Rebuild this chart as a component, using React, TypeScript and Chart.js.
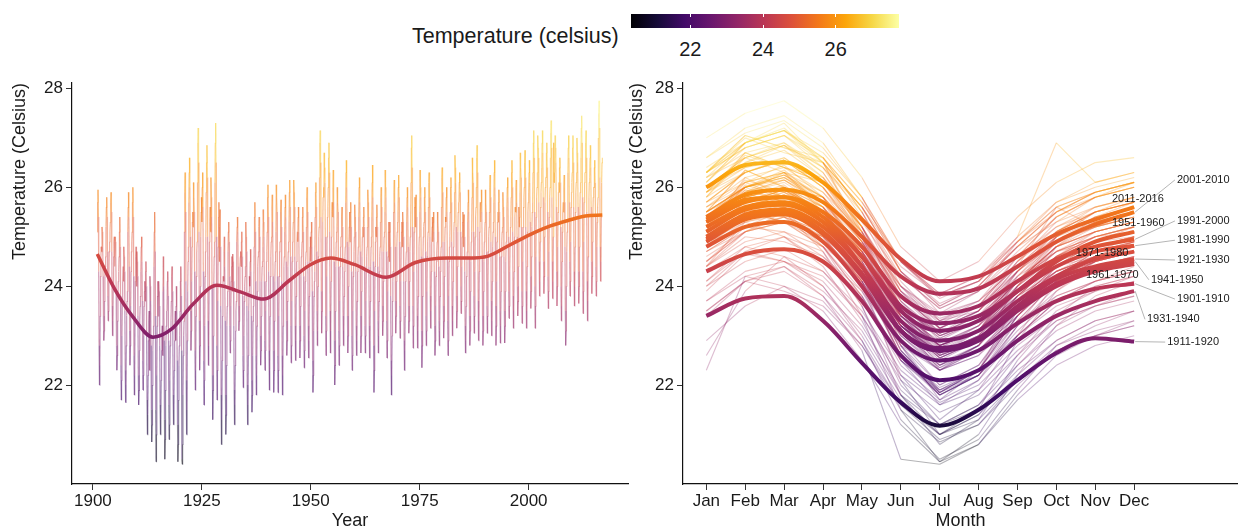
import React, { useEffect, useRef } from 'react';
import { Chart, registerables } from 'chart.js';

Chart.register(...registerables);

const FONT = "'Liberation Sans', Arial, Helvetica, sans-serif";
const TEXT = '#1a1a1a';

const MONTHS = ['Jan', 'Feb', 'Mar', 'Apr', 'May', 'Jun', 'Jul', 'Aug', 'Sep', 'Oct', 'Nov', 'Dec'];
const FIRST_YEAR = 1901;

// Monthly mean temperature (°C), one row per year 1901..2016, Jan..Dec
const MONTHLY: number[][] = [
  [25.1, 25.7, 25.95, 25.4, 24.3, 22.8, 22.0, 22.4, 23.4, 24.2, 24.6, 24.8],
  [24.7, 25.2, 25.1, 24.8, 24.2, 23.4, 22.9, 23.1, 23.7, 24.2, 24.4, 24.6],
  [25.2, 25.6, 25.8, 25.4, 24.7, 23.8, 23.3, 23.5, 24.2, 24.7, 24.9, 25.1],
  [25.3, 25.7, 25.9, 25.5, 24.7, 23.6, 23.0, 23.3, 24.0, 24.6, 24.9, 25.0],
  [24.4, 25.0, 24.9, 24.6, 23.9, 22.8, 22.3, 22.6, 23.3, 23.8, 24.1, 24.3],
  [24.6, 25.1, 25.4, 24.8, 23.8, 22.4, 21.7, 22.1, 23.0, 23.7, 24.1, 24.4],
  [24.1, 24.8, 24.6, 24.3, 23.5, 22.3, 21.65, 22.0, 22.8, 23.4, 23.7, 23.9],
  [25.1, 25.6, 25.9, 25.4, 24.4, 23.1, 22.4, 22.8, 23.6, 24.3, 24.7, 24.9],
  [25.1, 25.7, 26.0, 25.4, 24.2, 22.6, 21.8, 22.2, 23.3, 24.1, 24.6, 24.8],
  [24.0, 24.7, 24.5, 24.2, 23.4, 22.2, 21.6, 21.9, 22.7, 23.3, 23.6, 23.8],
  [24.3, 24.8, 25.0, 24.5, 23.7, 22.5, 21.9, 22.2, 23.0, 23.6, 23.9, 24.1],
  [23.7, 24.3, 24.5, 24.0, 23.0, 21.7, 21.0, 21.4, 22.2, 22.9, 23.3, 23.5],
  [22.3, 24.2, 24.0, 23.7, 22.8, 21.5, 20.85, 21.2, 22.0, 22.7, 23.0, 23.2],
  [24.4, 25.1, 25.5, 24.7, 23.4, 21.5, 20.45, 21.0, 22.2, 23.2, 23.8, 24.1],
  [23.4, 24.1, 23.9, 23.6, 22.8, 21.6, 21.0, 21.3, 22.1, 22.7, 23.0, 23.2],
  [22.6, 23.9, 24.6, 24.0, 22.9, 21.3, 20.5, 20.9, 21.9, 22.8, 23.2, 23.5],
  [23.5, 24.1, 24.3, 23.8, 22.9, 21.6, 20.9, 21.2, 22.1, 22.8, 23.1, 23.3],
  [23.7, 24.2, 24.4, 23.9, 23.1, 21.8, 21.2, 21.5, 22.3, 22.9, 23.3, 23.5],
  [22.9, 23.6, 24.0, 23.5, 22.5, 21.2, 20.45, 20.8, 21.7, 22.4, 22.8, 23.0],
  [23.5, 24.1, 24.4, 23.8, 22.7, 20.5, 20.4, 20.8, 21.8, 22.6, 23.0, 23.3],
  [25.1, 25.9, 26.3, 25.5, 24.1, 22.1, 21.0, 21.5, 22.9, 23.9, 24.5, 24.8],
  [25.7, 26.3, 26.6, 26.0, 25.0, 23.5, 22.7, 23.1, 24.1, 24.8, 25.3, 25.5],
  [25.2, 26.1, 25.8, 25.5, 24.3, 22.7, 21.9, 22.3, 23.4, 24.2, 24.7, 24.9],
  [26.1, 26.9, 27.2, 26.5, 25.1, 23.3, 22.3, 22.8, 24.0, 25.0, 25.5, 25.8],
  [25.3, 26.0, 26.3, 25.6, 24.3, 22.5, 21.6, 22.1, 23.2, 24.2, 24.7, 25.0],
  [25.9, 26.5, 26.85, 26.2, 25.0, 23.3, 22.4, 22.8, 24.0, 24.9, 25.3, 25.6],
  [25.1, 26.2, 25.8, 25.4, 24.0, 22.2, 21.3, 21.9, 23.0, 24.1, 24.6, 24.9],
  [26.1, 26.9, 27.3, 26.5, 25.0, 22.8, 21.7, 22.3, 23.7, 24.8, 25.4, 25.7],
  [24.5, 25.2, 25.55, 24.8, 23.6, 21.8, 20.8, 21.3, 22.5, 23.4, 24.0, 24.2],
  [24.1, 24.7, 25.0, 24.4, 23.3, 21.8, 21.0, 21.4, 22.4, 23.2, 23.6, 23.9],
  [24.7, 25.1, 25.3, 24.9, 24.2, 23.2, 22.65, 22.9, 23.6, 24.1, 24.4, 24.6],
  [23.9, 24.65, 24.5, 24.1, 23.2, 21.9, 21.2, 21.6, 22.4, 23.1, 23.5, 23.7],
  [24.9, 25.2, 25.4, 25.1, 24.4, 23.6, 23.1, 23.3, 23.9, 24.4, 24.6, 24.7],
  [24.4, 24.9, 25.1, 24.6, 23.8, 22.6, 21.95, 22.3, 23.0, 23.7, 24.0, 24.2],
  [24.4, 25.3, 25.0, 24.7, 23.6, 22.0, 21.2, 21.6, 22.6, 23.5, 23.9, 24.2],
  [24.0, 24.5, 24.75, 24.3, 23.4, 22.1, 21.45, 21.8, 22.6, 23.3, 23.6, 23.8],
  [24.8, 25.4, 25.7, 25.1, 24.1, 22.6, 21.8, 22.2, 23.2, 23.9, 24.4, 24.6],
  [24.7, 25.2, 25.4, 25.0, 24.1, 23.0, 22.4, 22.7, 23.4, 24.1, 24.4, 24.5],
  [24.8, 25.55, 25.3, 25.0, 24.1, 22.9, 22.3, 22.7, 23.5, 24.1, 24.5, 24.7],
  [25.1, 25.8, 26.05, 25.4, 24.3, 22.7, 21.9, 22.3, 23.4, 24.2, 24.6, 24.9],
  [25.0, 25.6, 25.85, 25.3, 24.2, 22.7, 21.85, 22.3, 23.3, 24.1, 24.5, 24.7],
  [25.1, 26.05, 25.8, 25.5, 24.2, 22.6, 21.85, 22.3, 23.4, 24.2, 24.7, 24.9],
  [24.9, 25.5, 25.75, 25.2, 24.1, 22.6, 21.8, 22.2, 23.2, 24.0, 24.4, 24.6],
  [25.1, 25.6, 25.85, 25.4, 24.5, 23.3, 22.6, 22.9, 23.7, 24.4, 24.7, 24.9],
  [25.3, 25.9, 26.15, 25.6, 24.6, 23.2, 22.45, 22.8, 23.7, 24.5, 24.9, 25.1],
  [25.3, 26.15, 25.9, 25.6, 24.6, 23.2, 22.5, 22.9, 23.8, 24.5, 24.9, 25.1],
  [24.9, 25.4, 25.6, 25.1, 24.3, 23.2, 22.55, 22.9, 23.6, 24.2, 24.6, 24.7],
  [24.9, 25.4, 25.6, 25.1, 24.2, 23.0, 22.35, 22.7, 23.5, 24.1, 24.5, 24.7],
  [25.2, 25.8, 26.0, 25.5, 24.5, 23.2, 22.55, 22.9, 23.8, 24.5, 24.8, 25.0],
  [24.5, 25.1, 25.3, 24.8, 23.9, 22.5, 21.85, 22.2, 23.1, 23.8, 24.1, 24.3],
  [25.4, 25.9, 26.1, 25.6, 24.7, 23.5, 22.8, 23.1, 24.0, 24.6, 25.0, 25.2],
  [26.2, 26.9, 27.15, 26.5, 25.4, 23.9, 23.05, 23.5, 24.5, 25.3, 25.8, 26.0],
  [25.8, 26.7, 26.4, 26.1, 25.0, 23.4, 22.6, 23.1, 24.2, 25.0, 25.4, 25.6],
  [26.0, 26.6, 26.9, 26.3, 25.1, 23.5, 22.65, 23.1, 24.1, 25.0, 25.5, 25.7],
  [25.4, 26.0, 26.35, 25.7, 24.5, 22.9, 22.0, 22.4, 23.5, 24.4, 24.9, 25.1],
  [25.2, 26.0, 25.7, 25.5, 24.4, 23.1, 22.4, 22.8, 23.7, 24.4, 24.8, 25.0],
  [25.0, 25.4, 25.6, 25.2, 24.4, 23.4, 22.8, 23.1, 23.8, 24.3, 24.6, 24.8],
  [25.7, 26.3, 26.55, 26.0, 24.9, 23.4, 22.65, 23.0, 24.0, 24.8, 25.2, 25.5],
  [24.9, 25.5, 25.7, 25.2, 24.3, 23.0, 22.3, 22.6, 23.5, 24.2, 24.5, 24.7],
  [25.0, 25.65, 25.4, 25.1, 24.3, 23.2, 22.6, 22.9, 23.7, 24.3, 24.6, 24.8],
  [25.4, 26.0, 26.2, 25.7, 24.7, 23.4, 22.65, 23.0, 23.9, 24.6, 25.0, 25.2],
  [25.0, 25.4, 25.6, 25.2, 24.4, 23.2, 22.65, 23.0, 23.7, 24.3, 24.6, 24.8],
  [25.2, 25.95, 25.7, 25.4, 24.4, 23.2, 22.55, 22.9, 23.7, 24.4, 24.8, 25.0],
  [25.4, 26.1, 26.45, 25.8, 24.5, 22.8, 21.85, 22.3, 23.5, 24.4, 24.9, 25.2],
  [25.0, 25.4, 25.65, 25.2, 24.4, 23.3, 22.65, 23.0, 23.7, 24.3, 24.6, 24.8],
  [25.3, 25.8, 26.0, 25.6, 24.7, 23.6, 23.0, 23.3, 24.1, 24.7, 25.0, 25.1],
  [25.5, 26.35, 26.0, 25.8, 24.7, 23.3, 22.55, 22.9, 23.9, 24.6, 25.1, 25.3],
  [24.5, 25.1, 25.3, 24.8, 23.8, 22.5, 21.8, 22.2, 23.0, 23.7, 24.1, 24.3],
  [25.5, 25.9, 26.15, 25.7, 24.8, 23.7, 23.05, 23.4, 24.1, 24.8, 25.1, 25.3],
  [25.5, 26.0, 26.25, 25.8, 24.9, 23.6, 22.95, 23.3, 24.1, 24.8, 25.1, 25.3],
  [24.8, 25.5, 25.3, 25.0, 24.1, 22.9, 22.3, 22.7, 23.4, 24.1, 24.5, 24.7],
  [25.3, 25.8, 26.0, 25.6, 24.8, 23.6, 23.05, 23.3, 24.1, 24.7, 25.0, 25.2],
  [26.1, 26.8, 27.05, 26.4, 25.2, 23.6, 22.75, 23.2, 24.3, 25.1, 25.6, 25.8],
  [25.2, 25.6, 25.85, 25.4, 24.5, 23.4, 22.75, 23.1, 23.8, 24.5, 24.8, 25.0],
  [25.5, 26.35, 26.0, 25.8, 24.6, 23.1, 22.35, 22.8, 23.8, 24.6, 25.0, 25.2],
  [25.3, 25.8, 26.0, 25.5, 24.7, 23.4, 22.8, 23.1, 23.9, 24.6, 24.9, 25.1],
  [25.6, 26.1, 26.3, 25.8, 25.0, 23.8, 23.15, 23.5, 24.3, 24.9, 25.2, 25.4],
  [24.9, 25.3, 25.5, 25.1, 24.3, 23.2, 22.6, 22.9, 23.6, 24.2, 24.5, 24.7],
  [24.9, 25.5, 25.3, 25.1, 24.4, 23.3, 22.8, 23.1, 23.8, 24.3, 24.6, 24.8],
  [25.6, 26.2, 26.4, 25.9, 24.9, 23.6, 22.95, 23.3, 24.2, 24.9, 25.2, 25.4],
  [25.3, 25.8, 26.0, 25.5, 24.6, 23.3, 22.6, 22.9, 23.8, 24.5, 24.8, 25.0],
  [25.5, 26.0, 26.2, 25.7, 24.9, 23.6, 23.0, 23.3, 24.1, 24.8, 25.1, 25.3],
  [25.9, 26.65, 26.4, 26.1, 25.2, 23.8, 23.15, 23.5, 24.4, 25.1, 25.5, 25.7],
  [25.7, 26.1, 26.3, 25.9, 25.1, 24.0, 23.45, 23.7, 24.4, 25.0, 25.3, 25.5],
  [24.8, 25.3, 25.45, 25.0, 24.3, 23.2, 22.65, 22.9, 23.6, 24.2, 24.5, 24.7],
  [25.3, 25.7, 25.95, 25.5, 24.6, 23.4, 22.8, 23.1, 23.9, 24.5, 24.9, 25.1],
  [25.8, 26.6, 26.3, 26.1, 25.1, 23.8, 23.05, 23.4, 24.3, 25.0, 25.4, 25.6],
  [26.0, 26.6, 26.85, 26.3, 25.2, 23.7, 22.9, 23.3, 24.3, 25.1, 25.5, 25.7],
  [25.3, 25.7, 25.95, 25.5, 24.6, 23.4, 22.8, 23.1, 23.9, 24.5, 24.9, 25.1],
  [25.3, 25.95, 25.7, 25.5, 24.7, 23.6, 23.05, 23.4, 24.1, 24.7, 25.0, 25.2],
  [25.5, 26.0, 26.25, 25.8, 24.9, 23.7, 23.0, 23.3, 24.1, 24.8, 25.1, 25.3],
  [25.7, 26.3, 26.55, 26.0, 25.0, 23.6, 22.8, 23.2, 24.1, 24.9, 25.3, 25.5],
  [25.3, 25.7, 25.95, 25.5, 24.6, 23.5, 22.85, 23.2, 23.9, 24.6, 24.9, 25.1],
  [25.2, 25.9, 25.6, 25.4, 24.6, 23.5, 22.85, 23.2, 23.9, 24.5, 24.9, 25.1],
  [25.6, 26.0, 26.2, 25.8, 25.0, 23.9, 23.35, 23.6, 24.3, 24.9, 25.2, 25.4],
  [25.8, 26.3, 26.55, 26.0, 25.1, 23.8, 23.15, 23.5, 24.3, 25.0, 25.4, 25.6],
  [25.5, 26.0, 26.15, 25.7, 25.0, 24.0, 23.4, 23.7, 24.4, 25.6, 25.2, 25.4],
  [25.9, 26.7, 26.4, 26.2, 25.2, 23.9, 23.25, 23.6, 24.5, 25.2, 25.6, 25.8],
  [26.0, 26.5, 26.75, 26.2, 25.2, 23.9, 23.15, 23.5, 24.4, 25.1, 25.5, 25.7],
  [25.9, 26.3, 26.55, 26.1, 25.3, 24.2, 23.55, 23.9, 24.6, 25.2, 25.5, 25.7],
  [26.3, 26.9, 27.15, 26.6, 25.5, 24.0, 23.15, 23.6, 24.6, 25.4, 25.8, 26.0],
  [26.3, 27.05, 26.8, 26.6, 25.7, 24.5, 23.8, 24.1, 24.9, 25.6, 25.9, 26.1],
  [26.4, 26.9, 27.15, 26.7, 25.8, 24.5, 23.85, 24.2, 25.0, 25.7, 26.0, 26.2],
  [26.2, 26.7, 26.9, 26.4, 25.5, 24.2, 23.55, 23.9, 24.7, 25.4, 25.8, 26.0],
  [26.6, 27.1, 27.35, 26.8, 25.8, 24.5, 23.75, 24.1, 25.0, 26.9, 26.1, 26.3],
  [26.3, 27.05, 26.8, 26.5, 25.6, 24.3, 23.6, 24.0, 24.8, 25.5, 25.9, 26.1],
  [25.9, 26.4, 26.6, 26.1, 25.2, 24.0, 23.3, 23.6, 24.5, 25.1, 25.5, 25.7],
  [25.5, 26.0, 26.25, 25.7, 24.8, 23.5, 22.8, 23.1, 24.0, 24.7, 25.1, 25.3],
  [26.3, 26.8, 27.05, 26.6, 25.7, 24.5, 23.8, 24.1, 24.9, 25.6, 25.9, 26.1],
  [26.3, 26.8, 27.05, 26.5, 25.6, 24.3, 23.6, 24.0, 24.8, 25.5, 25.9, 26.1],
  [26.3, 27.0, 26.7, 26.5, 25.6, 24.3, 23.65, 24.0, 24.8, 25.5, 25.9, 26.1],
  [26.6, 27.2, 27.45, 26.9, 25.8, 24.3, 23.45, 23.9, 24.9, 25.7, 26.1, 26.3],
  [26.3, 26.9, 27.15, 26.6, 25.5, 24.1, 23.3, 23.7, 24.6, 25.4, 25.8, 26.1],
  [26.2, 26.6, 26.85, 26.4, 25.6, 24.5, 23.85, 24.2, 24.9, 25.5, 25.8, 26.0],
  [26.0, 26.4, 26.55, 26.1, 25.4, 24.4, 23.8, 24.1, 24.8, 25.3, 25.6, 25.8],
  [27.0, 27.5, 27.75, 27.2, 26.2, 24.8, 24.1, 24.5, 25.4, 26.1, 26.5, 26.6],
];

// Smoothed long-term trend (°C)
const TREND_YEARS = [1901, 1905, 1909, 1913.8, 1918, 1923, 1928.5, 1934, 1939.2, 1945, 1950, 1954.6, 1960, 1967.3, 1974, 1981.5, 1986, 1990.7, 1996, 2001.4, 2005, 2009, 2013, 2016.9];
const TREND_VALUES = [24.65, 23.94, 23.4, 22.97, 23.13, 23.64, 24.02, 23.88, 23.74, 24.11, 24.44, 24.57, 24.44, 24.18, 24.48, 24.57, 24.57, 24.61, 24.85, 25.09, 25.22, 25.33, 25.42, 25.44];

// Decade mean seasonal cycles (°C), Jan..Dec
const DECADES = ['1901-1910', '1911-1920', '1921-1930', '1931-1940', '1941-1950', '1951-1960', '1961-1970', '1971-1980', '1981-1990', '1991-2000', '2001-2010', '2011-2016'];
const DECADE_PROFILES: number[][] = [
  [24.8, 25.2, 25.3, 24.9, 24.0, 22.9, 22.5, 22.7, 23.25, 23.7, 23.95, 24.05],
  [23.4, 23.75, 23.8, 23.3, 22.45, 21.65, 21.18, 21.5, 22.1, 22.65, 22.95, 22.88],
  [25.2, 25.6, 25.7, 25.3, 24.4, 23.1, 22.7, 22.95, 23.6, 24.15, 24.4, 24.55],
  [24.3, 24.65, 24.75, 24.5, 23.7, 22.6, 22.1, 22.3, 22.9, 23.4, 23.7, 23.9],
  [24.95, 25.4, 25.5, 25.1, 24.25, 23.1, 22.75, 22.95, 23.55, 24.05, 24.35, 24.5],
  [25.35, 25.75, 25.8, 25.4, 24.6, 23.5, 23.1, 23.3, 23.9, 24.5, 24.9, 25.1],
  [24.9, 25.35, 25.45, 25.05, 24.2, 23.1, 22.7, 22.9, 23.5, 24.0, 24.3, 24.45],
  [25.0, 25.45, 25.55, 25.2, 24.4, 23.3, 22.9, 23.1, 23.7, 24.2, 24.55, 24.7],
  [25.1, 25.55, 25.65, 25.3, 24.6, 23.6, 23.25, 23.4, 23.9, 24.4, 24.7, 24.82],
  [25.3, 25.7, 25.8, 25.5, 24.8, 23.8, 23.45, 23.6, 24.1, 24.55, 24.8, 24.95],
  [25.4, 25.85, 25.95, 25.7, 25.0, 24.2, 23.85, 23.95, 24.4, 24.9, 25.25, 25.5],
  [26.0, 26.45, 26.5, 26.1, 25.35, 24.55, 24.1, 24.2, 24.6, 25.05, 25.35, 25.6],
];

// Where each decade label sits (month-axis units, °C) and whether it gets a leader line
const LABEL_POS = [
  { x: 12.1, y: 23.74, leader: true },
  { x: 11.85, y: 22.87, leader: true },
  { x: 12.1, y: 24.53, leader: true },
  { x: 11.33, y: 23.33, leader: true },
  { x: 11.43, y: 24.13, leader: true },
  { x: 10.43, y: 25.27, leader: false },
  { x: 9.76, y: 24.22, leader: false },
  { x: 9.5, y: 24.67, leader: false },
  { x: 12.1, y: 24.93, leader: true },
  { x: 12.1, y: 25.32, leader: true },
  { x: 12.1, y: 26.15, leader: true },
  { x: 10.43, y: 25.76, leader: false },
];

const Y_TICKS = [22, 24, 26, 28];
const YEAR_TICKS = [1900, 1925, 1950, 1975, 2000];
const LEGEND_TICKS = [22, 24, 26];
const COLOR_MIN = 20.37;
const COLOR_MAX = 27.74;

const INFERNO = ['#000004', '#160b39', '#420a68', '#6a176e', '#932667', '#bc3754', '#dd513a', '#f37819', '#fca50a', '#f6d746', '#fcffa4'];
const INFERNO_RGB = INFERNO.map((h) => [parseInt(h.slice(1, 3), 16), parseInt(h.slice(3, 5), 16), parseInt(h.slice(5, 7), 16)]);

function tempColor(v: number, a: number): string {
  let t = (v - COLOR_MIN) / (COLOR_MAX - COLOR_MIN);
  t = Math.max(0, Math.min(1, t));
  const s = t * 10;
  const i = Math.min(9, Math.floor(s));
  const f = s - i;
  const c0 = INFERNO_RGB[i];
  const c1 = INFERNO_RGB[i + 1];
  const r = Math.round(c0[0] + (c1[0] - c0[0]) * f);
  const g = Math.round(c0[1] + (c1[1] - c0[1]) * f);
  const b = Math.round(c0[2] + (c1[2] - c0[2]) * f);
  return `rgba(${r},${g},${b},${a})`;
}

function gradientFor(alpha: number) {
  return (ctx: any) => {
    const chart = ctx.chart;
    if (!chart.chartArea) return 'rgba(0,0,0,0)';
    const y = chart.scales.y;
    const g = chart.ctx.createLinearGradient(0, y.getPixelForValue(COLOR_MIN), 0, y.getPixelForValue(COLOR_MAX));
    INFERNO.forEach((_, i) => g.addColorStop(i / 10, tempColor(COLOR_MIN + (i / 10) * (COLOR_MAX - COLOR_MIN), alpha)));
    return g;
  };
}

function segColor(alpha: number) {
  return {
    borderColor: (ctx: any) => tempColor((ctx.p0.parsed.y + ctx.p1.parsed.y) / 2, alpha),
  };
}

const tickFont = { family: FONT, size: 17 };
const titleFont = { family: FONT, size: 18 };

function yScale(width: number, titlePad: number) {
  return {
    type: 'linear',
    min: 20.0,
    max: 28.11,
    afterBuildTicks: (s: any) => {
      s.ticks = Y_TICKS.map((v) => ({ value: v }));
    },
    afterFit: (s: any) => {
      s.width = width;
    },
    ticks: { font: tickFont, color: TEXT, padding: 3, callback: (v: any) => String(v) },
    grid: { display: true, drawOnChartArea: false, drawTicks: true, tickLength: 6, color: '#333', lineWidth: 1 },
    border: { display: true, color: '#111', width: 1.2 },
    title: { display: true, text: 'Temperature (Celsius)', align: 'end', font: titleFont, color: TEXT, padding: { top: titlePad, bottom: 0 } },
  };
}

function xCommon(title: string) {
  return {
    type: 'linear',
    afterFit: (s: any) => {
      s.height = 45;
    },
    grid: { display: true, drawOnChartArea: false, drawTicks: true, tickLength: 6, color: '#333', lineWidth: 1 },
    border: { display: true, color: '#111', width: 1.2 },
    title: { display: true, text: title, font: titleFont, color: TEXT, padding: { top: 0, bottom: -3 } },
  };
}

const decadeLabelPlugin = {
  id: 'decadeLabels',
  afterDatasetsDraw(chart: any) {
    const { ctx, scales } = chart;
    const x = scales.x;
    const y = scales.y;
    ctx.save();
    ctx.font = `11px ${FONT}`;
    ctx.textBaseline = 'middle';
    ctx.textAlign = 'left';
    DECADES.forEach((name, i) => {
      const pos = LABEL_POS[i];
      const tx = x.getPixelForValue(pos.x);
      const ty = y.getPixelForValue(pos.y);
      if (pos.leader) {
        const sx = x.getPixelForValue(11);
        const sy = y.getPixelForValue(DECADE_PROFILES[i][11]);
        ctx.strokeStyle = '#b5b5b5';
        ctx.lineWidth = 1;
        ctx.beginPath();
        ctx.moveTo(sx + 1, sy);
        ctx.lineTo(tx - 2, ty);
        ctx.stroke();
      }
      ctx.fillStyle = TEXT;
      ctx.fillText(name, tx, ty);
    });
    ctx.restore();
  },
};

function LeftChart() {
  const ref = useRef<HTMLCanvasElement>(null);
  useEffect(() => {
    if (!ref.current) return;
    const monthly = MONTHLY.flatMap((row, i) => row.map((v, m) => ({ x: FIRST_YEAR + i + m / 12, y: v })));
    const trend = TREND_YEARS.map((yr, i) => ({ x: yr, y: TREND_VALUES[i] }));
    const chart = new Chart(ref.current, {
      type: 'line',
      data: {
        datasets: [
          { data: trend, borderColor: gradientFor(1), borderWidth: 3.5, pointRadius: 0, cubicInterpolationMode: 'monotone', order: 0 } as any,
          { data: monthly, borderColor: 'rgba(0,0,0,0)', segment: segColor(0.48), borderWidth: 1.2, pointRadius: 0, tension: 0, order: 1 } as any,
        ],
      },
      options: {
        animation: false,
        responsive: false,
        maintainAspectRatio: false,
        events: [],
        layout: { padding: { top: 83, right: 12, left: 0, bottom: 0 } },
        plugins: { legend: { display: false }, tooltip: { enabled: false } },
        scales: {
          x: {
            ...xCommon('Year'),
            min: 1895.2,
            max: 2022.8,
            afterBuildTicks: (s: any) => {
              s.ticks = YEAR_TICKS.map((v) => ({ value: v }));
            },
            ticks: { font: tickFont, color: TEXT, padding: 1, maxRotation: 0, autoSkip: false, callback: (v: any) => String(v) },
          },
          y: yScale(72, 9),
        },
      } as any,
    });
    return () => chart.destroy();
  }, []);
  return <canvas ref={ref} width={640} height={529} style={{ position: 'absolute', left: 0, top: 0, width: 640, height: 529 }} />;
}

function RightChart() {
  const ref = useRef<HTMLCanvasElement>(null);
  useEffect(() => {
    if (!ref.current) return;
    const thin = MONTHLY.map((row) => ({
      data: row.map((v, m) => ({ x: m, y: v })),
      borderColor: 'rgba(0,0,0,0)',
      segment: segColor(0.3),
      borderWidth: 1.1,
      pointRadius: 0,
      tension: 0,
      order: 1,
    }));
    const thick = DECADE_PROFILES.map((row) => ({
      data: row.map((v, m) => ({ x: m, y: v })),
      borderColor: gradientFor(1),
      borderWidth: 4,
      pointRadius: 0,
      cubicInterpolationMode: 'monotone',
      order: 0,
    }));
    const chart = new Chart(ref.current, {
      type: 'line',
      data: { datasets: [...thick, ...thin] as any },
      options: {
        animation: false,
        responsive: false,
        maintainAspectRatio: false,
        events: [],
        layout: { padding: { top: 83, right: 0, left: 0, bottom: 0 } },
        plugins: { legend: { display: false }, tooltip: { enabled: false } },
        scales: {
          x: {
            ...xCommon('Month'),
            min: -0.6,
            max: 13.67,
            afterBuildTicks: (s: any) => {
              s.ticks = MONTHS.map((_, i) => ({ value: i }));
            },
            ticks: { font: tickFont, color: TEXT, padding: 1, maxRotation: 0, autoSkip: false, callback: (v: any) => MONTHS[v] ?? '' },
          },
          y: yScale(67, 10),
        },
      } as any,
      plugins: [decadeLabelPlugin],
    });
    return () => chart.destroy();
  }, []);
  return <canvas ref={ref} width={622} height={529} style={{ position: 'absolute', left: 616, top: 0, width: 622, height: 529 }} />;
}

const BAR_LEFT = 631;
const BAR_TOP = 14;
const BAR_W = 268;
const BAR_H = 14;

function ColorLegend() {
  const xOf = (v: number) => BAR_LEFT + ((v - COLOR_MIN) / (COLOR_MAX - COLOR_MIN)) * BAR_W;
  return (
    <>
      <div style={{ position: 'absolute', left: 412, top: 26, fontFamily: FONT, fontSize: 21.5, lineHeight: '21px', color: TEXT, whiteSpace: 'nowrap' }}>
        Temperature (celsius)
      </div>
      <div
        style={{
          position: 'absolute',
          left: BAR_LEFT,
          top: BAR_TOP,
          width: BAR_W,
          height: BAR_H,
          background: `linear-gradient(to right, ${INFERNO.join(', ')})`,
        }}
      />
      {LEGEND_TICKS.map((v) => (
        <React.Fragment key={v}>
          <div style={{ position: 'absolute', left: xOf(v) - 0.5, top: BAR_TOP, width: 1, height: 3, background: '#fff' }} />
          <div style={{ position: 'absolute', left: xOf(v) - 0.5, top: BAR_TOP + BAR_H - 3, width: 1, height: 3, background: '#fff' }} />
          <div
            style={{
              position: 'absolute',
              left: xOf(v) - 30,
              width: 60,
              top: 39,
              textAlign: 'center',
              fontFamily: FONT,
              fontSize: 20,
              lineHeight: '20px',
              color: TEXT,
            }}
          >
            {v}
          </div>
        </React.Fragment>
      ))}
    </>
  );
}

export default function App() {
  return (
    <div style={{ position: 'absolute', left: 0, top: 0, width: 1238, height: 529, background: '#fff', overflow: 'hidden' }}>
      <ColorLegend />
      <LeftChart />
      <RightChart />
    </div>
  );
}
